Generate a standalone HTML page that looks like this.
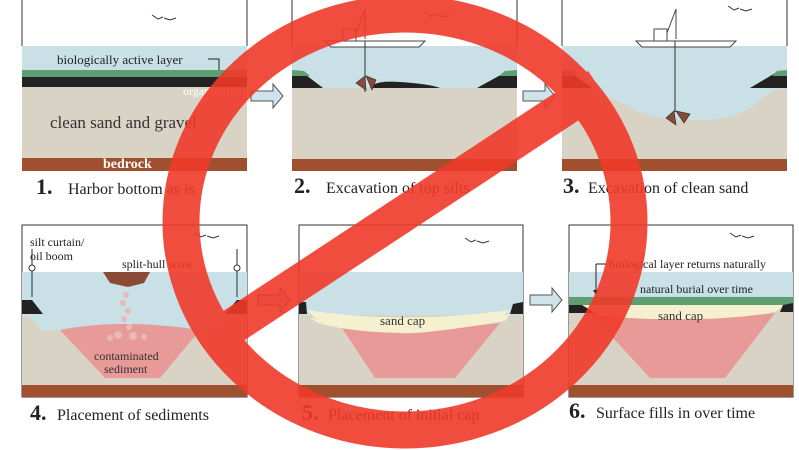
<!DOCTYPE html>
<html><head><meta charset="utf-8"><style>
html,body{margin:0;padding:0;background:#fff;}
svg{display:block;}
text{font-family:"Liberation Serif",serif;}
</style></head><body>
<svg width="799" height="450" viewBox="0 0 799 450" xmlns="http://www.w3.org/2000/svg">
<defs>
<g id="bird"><path d="M0,0 l6,4 l5,-2 M12,3 l6,2 l6,-2" stroke="#333" fill="none" stroke-width="1"/></g>
<g id="boat">
<path d="M0,0 h100 l-6,6 h-88 z" fill="#fff" stroke="#444" stroke-width="1"/>
<rect x="18" y="-12" width="13" height="12" fill="#fff" stroke="#444"/>
<path d="M31,-8 L40,-32 L40,-2" fill="none" stroke="#444"/>
</g>
<g id="arrow"><path d="M0,-5 h22 v-7 l10,12 l-10,12 v-7 h-22 z" fill="#cfe3ea" stroke="#555" stroke-width="1"/></g>
</defs>

<!-- Panel 1 -->
<g>
<rect x="22" y="46" width="225" height="24" fill="#c8e0e6"/>
<rect x="22" y="70" width="225" height="7" fill="#5e9e72"/>
<rect x="22" y="77" width="225" height="10" fill="#222"/>
<rect x="22" y="87" width="225" height="71" fill="#d8d3c4"/>
<rect x="22" y="158" width="225" height="13" fill="#a0502e"/>
<path d="M22,0 V46 M247,0 V46" stroke="#333"/>
<use href="#bird" x="152" y="15"/>
<text x="57" y="64" font-size="13" fill="#222">biologically active layer</text>
<path d="M208,59 h11 v11" stroke="#222" fill="none"/>
<text x="183" y="95" font-size="12" fill="#fff">organic silts</text>
<text x="50" y="128" font-size="17" fill="#333">clean sand and gravel</text>
<text x="103" y="168" font-size="14" font-weight="bold" fill="#fff">bedrock</text>
<text x="36" y="194" font-size="22" font-weight="bold" fill="#222">1.</text>
<text x="68" y="194" font-size="16" fill="#222">Harbor bottom as is</text>
</g>
<use href="#arrow" x="251" y="96"/>

<!-- Panel 2 -->
<g>
<rect x="292" y="46" width="225" height="42" fill="#c8e0e6"/>
<rect x="292" y="88" width="225" height="71" fill="#d8d3c4"/>
<rect x="292" y="159" width="225" height="12" fill="#a0502e"/>
<path d="M292,72 L302,72 L323,88 L292,88 Z" fill="#222"/>
<path d="M292,70 L304,71 L310,76 L292,76 Z" fill="#5e9e72"/>
<path d="M517,72 L506,72 L477,88 L517,88 Z" fill="#222"/>
<path d="M517,70 L505,71 L499,76 L517,76 Z" fill="#5e9e72"/>
<path d="M370,88 Q375,80 400,82 Q430,84 440,88 Z" fill="#222"/>
<path d="M292,0 V46 M517,0 V46" stroke="#333"/>
<use href="#bird" x="425" y="12"/>
<use href="#boat" x="325" y="41"/>
<line x1="365" y1="41" x2="365" y2="92" stroke="#333"/>
<path d="M356,83 L365,76 L366,90 Z M366,76 L376,80 L372,90 Z" fill="#8b4a35" stroke="#333" stroke-width="0.7"/>
<text x="294" y="193" font-size="22" font-weight="bold" fill="#222">2.</text>
<text x="326" y="193" font-size="16" fill="#222">Excavation of top silts</text>
</g>
<use href="#arrow" x="523" y="96"/>

<!-- Panel 3 -->
<g>
<rect x="562" y="46" width="225" height="113" fill="#d8d3c4"/>
<path d="M562,46 H787 V88 Q768,90 755,105 Q735,120 700,120 Q665,122 640,112 Q605,95 590,88 L562,88 Z" fill="#c8e0e6"/>
<rect x="562" y="159" width="225" height="12" fill="#a0502e"/>
<path d="M562,72 L570,72 L592,88 L562,88 Z" fill="#222"/>
<path d="M562,70 L573,71 L578,76 L562,76 Z" fill="#5e9e72"/>
<path d="M787,72 L777,72 L750,88 L787,88 Z" fill="#222"/>
<path d="M787,70 L777,71 L772,76 L787,76 Z" fill="#5e9e72"/>
<path d="M562,0 V46 M787,0 V46" stroke="#333"/>
<use href="#bird" x="728" y="6"/>
<use href="#boat" x="636" y="41"/>
<line x1="675" y1="41" x2="675" y2="112" stroke="#333"/>
<path d="M666,118 L674,111 L676,125 Z M676,111 L690,114 L684,123 Z" fill="#8b4a35" stroke="#333" stroke-width="0.7"/>
<text x="563" y="193" font-size="22" font-weight="bold" fill="#222">3.</text>
<text x="588" y="193" font-size="16" fill="#222">Excavation of clean sand</text>
</g>

<!-- Panel 4 -->
<g>
<rect x="22" y="225" width="225" height="172" fill="#fff" stroke="#333"/>
<rect x="22" y="272" width="225" height="113" fill="#d8d3c4"/>
<path d="M22,272 H247 V315 Q225,318 205,330 L40,330 Q35,318 22,315 Z" fill="#c8e0e6"/>
<path d="M60,330 Q120,318 200,330 L160,378 L105,378 Z" fill="#e89a98"/>
<rect x="22" y="385" width="225" height="12" fill="#a0502e"/>
<path d="M22,300 L32,300 L43,314 L22,314 Z M247,300 L237,300 L225,314 L247,314 Z" fill="#222"/>
<path d="M32,249 V297 M237,249 V297" stroke="#2d5a5a" stroke-width="1.2"/>
<circle cx="32" cy="268" r="3" fill="#ffe" stroke="#333"/>
<circle cx="237" cy="268" r="3" fill="#ffe" stroke="#333"/>
<path d="M103,272 H150 L144,283 L128,287 L110,283 Z" fill="#8b4a35"/>
<g fill="#eab8b6"><circle cx="126" cy="295" r="3"/><circle cx="123" cy="303" r="3"/><circle cx="128" cy="311" r="3"/><circle cx="124" cy="319" r="3"/><circle cx="129" cy="327" r="3"/><circle cx="118" cy="335" r="4"/><circle cx="133" cy="336" r="4"/><circle cx="110" cy="338" r="3"/><circle cx="144" cy="337" r="3"/></g>
<use href="#bird" x="195" y="233"/>
<text x="30" y="246" font-size="12" fill="#222">silt curtain/</text>
<text x="30" y="260" font-size="12" fill="#222">oil boom</text>
<text x="122" y="268" font-size="12" fill="#222">split-hull scow</text>
<text x="94" y="360" font-size="12" fill="#333">contaminated</text>
<text x="104" y="373" font-size="12" fill="#333">sediment</text>
<text x="30" y="420" font-size="22" font-weight="bold" fill="#222">4.</text>
<text x="57" y="420" font-size="16" fill="#222">Placement of sediments</text>
</g>
<use href="#arrow" x="258" y="300"/>

<!-- Panel 5 -->
<g>
<rect x="299" y="225" width="224" height="172" fill="#fff" stroke="#333"/>
<rect x="299" y="272" width="224" height="113" fill="#d8d3c4"/>
<rect x="299" y="272" width="224" height="43" fill="#c8e0e6"/>
<path d="M307,310 Q400,325 510,310 L500,318 Q420,330 400,328 Q350,330 315,318 Z" fill="#f5f0d0"/>
<path d="M320,318 Q400,335 503,318 Q470,325 455,328 Q400,335 345,328 Z" fill="#f5f0d0"/>
<path d="M340,325 Q400,335 500,323 L455,378 L375,378 Z" fill="#e89a98"/>
<path d="M310,318 Q400,332 510,314 L505,321 Q420,335 400,333 Q350,332 318,323 Z" fill="#f5f0d0"/>
<rect x="299" y="385" width="224" height="12" fill="#a0502e"/>
<path d="M299,302 L306,302 L307,314 L299,314 Z M523,302 L513,304 L510,314 L523,314 Z" fill="#222"/>
<use href="#bird" x="465" y="238"/>
<text x="380" y="325" font-size="13" fill="#333">sand cap</text>
<text x="302" y="420" font-size="22" font-weight="bold" fill="#222">5.</text>
<text x="328" y="420" font-size="16" fill="#222">Placement of initial cap</text>
</g>
<use href="#arrow" x="530" y="300"/>

<!-- Panel 6 -->
<g>
<rect x="569" y="225" width="224" height="172" fill="#fff" stroke="#333"/>
<rect x="569" y="272" width="224" height="113" fill="#d8d3c4"/>
<rect x="569" y="272" width="224" height="26" fill="#c8e0e6"/>
<rect x="569" y="297" width="224" height="8" fill="#5e9e72"/>
<path d="M580,305 H785 L775,312 Q700,322 600,314 Z" fill="#f5f0d0"/>
<path d="M590,313 Q680,325 775,313 L725,378 L650,378 Z" fill="#e89a98"/>
<path d="M585,305 H780 L770,313 Q700,324 600,316 Z" fill="#f5f0d0"/>
<rect x="569" y="385" width="224" height="12" fill="#a0502e"/>
<path d="M569,305 L582,305 L595,313 L569,313 Z M793,303 L783,305 L780,312 L793,312 Z" fill="#222"/>
<path d="M596,264 H607 M596,264 V292" stroke="#222" fill="none"/>
<path d="M593,290 l3,5 l3,-5 z" fill="#222"/>
<use href="#bird" x="730" y="233"/>
<text x="609" y="268" font-size="12" fill="#222">biological layer returns naturally</text>
<text x="640" y="293" font-size="12" fill="#222">natural burial over time</text>
<text x="658" y="320" font-size="13" fill="#333">sand cap</text>
<text x="569" y="418" font-size="22" font-weight="bold" fill="#222">6.</text>
<text x="596" y="418" font-size="16" fill="#222">Surface fills in over time</text>
</g>

<!-- Red prohibition sign -->
<g opacity="0.9">
<ellipse cx="405" cy="222" rx="224" ry="208" fill="none" stroke="#f03a2a" stroke-width="37"/>
<line x1="215" y1="338" x2="598" y2="86" stroke="#f03a2a" stroke-width="36"/>
</g>
</svg>
</body></html>
